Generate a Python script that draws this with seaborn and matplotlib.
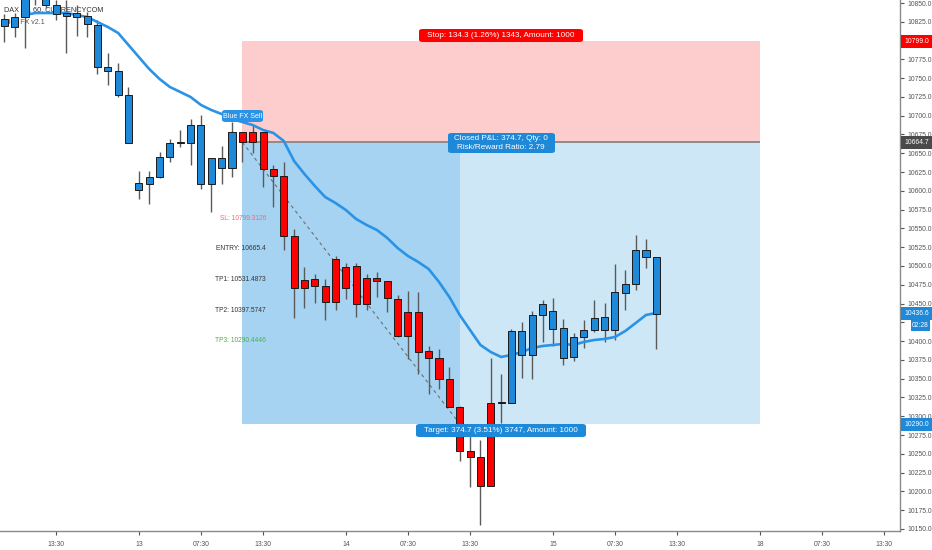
import numpy as np
import pandas as pd
import matplotlib
matplotlib.use("Agg")
import matplotlib.pyplot as plt
from matplotlib.patches import Rectangle, FancyBboxPatch
from matplotlib import font_manager as fm
import seaborn as sns

# ---------------- data ----------------
opens = [10819.4, 10818.1, 10831.4, 10864.6, 10864.6, 10847.3, 10836.7, 10836.7, 10832.7, 10820.7,
         10764.8, 10759.5, 10727.6, 10601.1, 10609.1, 10618.4, 10645.1, 10663.7, 10663.7, 10687.6,
         10609.1, 10643.7, 10630.4, 10678.3, 10678.3, 10678.3, 10629.1, 10619.8, 10539.9, 10481.4,
         10482.7, 10473.4, 10509.3, 10498.7, 10500.0, 10484.0, 10484.0, 10480.0, 10456.1, 10438.8,
         10438.8, 10386.9, 10377.6, 10349.6, 10312.4, 10253.8, 10245.8, 10207.2, 10317.7, 10317.7,
         10413.5, 10381.6, 10434.8, 10440.1, 10417.5, 10378.9, 10405.5, 10414.8, 10414.8, 10414.8,
         10464.1, 10476.0, 10521.3, 10512.0]
closes = [10828.7, 10831.4, 10864.6, 10887.3, 10847.3, 10835.4, 10832.7, 10831.4, 10822.1, 10764.8,
          10759.5, 10727.6, 10663.7, 10610.5, 10618.4, 10645.1, 10663.7, 10663.7, 10687.6, 10609.1,
          10643.7, 10630.4, 10678.3, 10665.0, 10665.0, 10629.1, 10619.8, 10539.9, 10470.7, 10470.7,
          10473.4, 10452.1, 10452.1, 10470.7, 10449.4, 10449.4, 10480.0, 10457.4, 10406.8, 10406.8,
          10385.5, 10377.6, 10349.6, 10312.4, 10253.8, 10245.8, 10207.2, 10317.7, 10317.7, 10413.5,
          10381.6, 10434.8, 10449.4, 10416.2, 10377.6, 10405.5, 10414.8, 10430.8, 10432.1, 10465.4,
          10476.0, 10521.3, 10512.0, 10436.6]
highs = [10835.4, 10836.7, 10874.0, 10893.9, 10874.0, 10854.0, 10854.0, 10847.3, 10838.0, 10827.4,
         10783.5, 10770.2, 10738.2, 10626.4, 10626.4, 10651.7, 10669.0, 10681.0, 10695.6, 10700.9,
         10643.7, 10659.7, 10691.6, 10678.3, 10687.6, 10678.3, 10634.4, 10638.4, 10549.2, 10498.7,
         10489.4, 10482.7, 10513.3, 10504.0, 10504.0, 10489.4, 10492.0, 10480.0, 10461.4, 10466.7,
         10465.4, 10393.5, 10389.5, 10365.6, 10313.7, 10275.1, 10268.4, 10377.6, 10356.3, 10416.2,
         10425.5, 10440.1, 10454.8, 10457.4, 10429.5, 10410.8, 10428.1, 10454.8, 10450.8, 10502.7,
         10494.7, 10541.3, 10535.9, 10512.0]
lows = [10798.1, 10804.8, 10790.1, 10847.3, 10843.3, 10827.4, 10783.5, 10806.1, 10804.8, 10755.5,
        10740.9, 10724.9, 10663.7, 10589.2, 10582.5, 10617.1, 10638.4, 10658.4, 10634.4, 10602.5,
        10571.9, 10609.1, 10618.4, 10638.4, 10650.4, 10605.1, 10578.5, 10521.3, 10430.8, 10444.1,
        10450.8, 10428.1, 10441.5, 10456.1, 10432.1, 10441.5, 10458.7, 10438.8, 10405.5, 10376.2,
        10356.3, 10329.7, 10336.3, 10312.4, 10240.5, 10205.8, 10155.3, 10207.2, 10291.1, 10317.7,
        10350.9, 10349.6, 10398.9, 10393.5, 10368.3, 10373.6, 10390.9, 10412.2, 10398.9, 10401.5,
        10441.5, 10468.1, 10497.3, 10389.5]
trend = ['b'] * 17 + ['k'] + ['b'] * 5 + ['r'] * 25 + ['d'] + ['b'] * 15

ma_values = [10834.0, 10836.7, 10836.7, 10836.7, 10836.7, 10834.0, 10831.4, 10824.7, 10818.1, 10810.1,
             10794.1, 10778.1, 10762.2, 10748.9, 10738.2, 10731.6, 10724.9, 10714.3, 10707.6, 10702.3,
             10695.6, 10691.6, 10687.6, 10681.0, 10677.0, 10666.4, 10639.7, 10622.4, 10606.5, 10591.8,
             10583.8, 10574.5, 10562.5, 10554.6, 10547.9, 10537.3, 10523.9, 10513.3, 10505.3, 10496.0,
             10478.7, 10458.7, 10434.8, 10414.8, 10394.9, 10385.5, 10378.9, 10381.6, 10385.5, 10390.9,
             10393.5, 10394.9, 10396.2, 10394.9, 10398.9, 10401.5, 10402.9, 10405.5, 10413.5, 10424.1,
             10434.8, 10437.5]
ma_start = 2

tick_pos = [5, 13, 19, 25, 33, 39, 45, 53, 59, 65, 73, 79, 85]
tick_labels = ['13:30', '13', '07:30', '13:30', '14', '07:30', '13:30', '15', '07:30', '13:30',
               '18', '07:30', '13:30']

entry_price = 10664.7
stop_price = 10799.0
target_price = 10290.0
last_price = 10436.6
entry_idx, exit_idx, end_idx = 23, 44, 73

level_texts = ['SL: 10799.3126', 'ENTRY: 10665.4', 'TP1: 10531.4873', 'TP2: 10397.5747', 'TP3: 10290.4446']
level_colors = ['#ee6b73', '#333333', '#333333', '#333333', '#4caf50']

# ---------------- style ----------------
sns.set_theme(style="white")
names = {f.name for f in fm.fontManager.ttflist}
FONT = 'DejaVu Sans'
for cand in ['Liberation Sans Narrow', 'Liberation Sans', 'Roboto']:
    if cand in names:
        FONT = cand
        break
plt.rcParams['font.family'] = [FONT, 'DejaVu Sans']

W, H = 932, 550
fig = plt.figure(figsize=(W / 100, H / 100), dpi=100)
fig.patch.set_facecolor('white')
ax = fig.add_axes([0, 19 / H, 900 / W, 531 / H])
ax.set_facecolor('white')

BLUE = '#1e88d9'
RED = '#ff0000'
col_map = {'b': BLUE, 'r': RED, 'k': '#111111', 'd': '#8b1a1a'}

# position regions
ax.fill_between([entry_idx, end_idx], entry_price, stop_price, color='#fdcdcd', lw=0, zorder=0)
ax.fill_between([entry_idx, exit_idx], target_price, entry_price, color='#a6d3f1', lw=0, zorder=0)
ax.fill_between([exit_idx, end_idx], target_price, entry_price, color='#cde7f7', lw=0, zorder=0)
ax.hlines(entry_price, entry_idx, end_idx, color='#8c8c8c', lw=1.4, zorder=1)
ax.plot([entry_idx, exit_idx], [entry_price, target_price], color='#6f6f6f', lw=0.8,
        ls=(0, (3, 3)), zorder=1)

# title texts (behind candles)
ax.text(0.004, 0.982, 'DAX 30, 60, CURRENCYCOM', transform=ax.transAxes, fontsize=5.2,
        color='#333333', va='center', ha='left', zorder=1)
ax.text(0.004, 0.957, 'Blue FX v2.1', transform=ax.transAxes, fontsize=5.0,
        color='#555555', va='center', ha='left', zorder=1)

# candles
idx = np.arange(len(opens))
o = np.array(opens); c = np.array(closes)
lo_b = np.minimum(o, c); hi_b = np.maximum(o, c)
hgt = np.maximum(hi_b - lo_b, 1.3)
cols = [col_map[t] for t in trend]
ax.vlines(idx, lows, highs, color='#5a5a5a', lw=1.0, zorder=3)

# moving average
ma_df = pd.DataFrame({'i': np.arange(ma_start, ma_start + len(ma_values)), 'ma': ma_values})
sns.lineplot(data=ma_df, x='i', y='ma', ax=ax, color='#2a93e6', lw=1.9, zorder=3.5)

ax.bar(idx, hgt, bottom=lo_b, width=0.68, color=cols, edgecolor='#1a1a1a', lw=0.7, zorder=4)

# level labels
for k, (t, cc) in enumerate(zip(level_texts, level_colors)):
    ypx = 218 + k * 30.7
    fig.text(266 / W, 1 - ypx / H, t, ha='right', va='center', fontsize=4.8, color=cc, zorder=6)

# axes
ax.set_xlim(-0.415, 86.54)
ax.set_ylim(10147.3, 10854.0)
ax.set_xticks(tick_pos)
ax.set_xticklabels(tick_labels)
ax.yaxis.tick_right()
yt = np.arange(10150, 10851, 25)
hidden = {10800, 10425}
ax.set_yticks(yt)
ax.set_yticklabels(['' if v in hidden else f'{v:.1f}' for v in yt])
ax.tick_params(axis='both', which='both', labelsize=4.9, colors='#555555', length=3,
               width=0.8, direction='out', pad=2)
ax.tick_params(axis='x', bottom=True, pad=4)
ax.tick_params(axis='y', right=True, left=False)
for s in ['top', 'left']:
    ax.spines[s].set_visible(False)
for s in ['right', 'bottom']:
    ax.spines[s].set_color('#8a8a8a')
    ax.spines[s].set_linewidth(1.0)
ax.set_xlabel('')
ax.set_ylabel('')
ax.grid(False)


def fig_box(x0, y0, x1, y1, color, rounded=False, z=10):
    if rounded:
        p = FancyBboxPatch((x0 / W, 1 - y1 / H), (x1 - x0) / W, (y1 - y0) / H,
                           boxstyle='round,pad=0,rounding_size=0.004', transform=fig.transFigure,
                           fc=color, ec='none', zorder=z)
    else:
        p = Rectangle((x0 / W, 1 - y1 / H), (x1 - x0) / W, (y1 - y0) / H,
                      transform=fig.transFigure, fc=color, ec='none', zorder=z)
    fig.patches.append(p)


def fig_txt(x, y, s, size=6.0, color='white', ha='center', z=11, **kw):
    fig.text(x / W, 1 - y / H, s, ha=ha, va='center', fontsize=size, color=color, zorder=z, **kw)


# chart info labels
fig_box(419, 29, 583, 42, '#ff0000', rounded=True)
fig_txt(501, 35.5, 'Stop: 134.3 (1.26%) 1343, Amount: 1000', size=5.9)
fig_box(448, 133, 555, 153, '#1e88d9', rounded=True)
fig_txt(501, 138.5, 'Closed P&L: 374.7, Qty: 0', size=5.9)
fig_txt(501, 147.5, 'Risk/Reward Ratio: 2.79', size=5.9)
fig_box(416, 424, 586, 437, '#1e88d9', rounded=True)
fig_txt(501, 430.5, 'Target: 374.7 (3.51%) 3747, Amount: 1000', size=5.9)
fig_box(222, 110, 263, 122, '#2a93e6', rounded=True)
fig_txt(242.5, 116, 'Blue FX Sell', size=5.0)

# right-axis price tags
fig_box(901, 35, 932, 48, '#ff0000')
fig_txt(916.5, 41.5, f'{stop_price:.1f}', size=4.9)
fig_box(901, 136, 932, 149, '#4a4a4a')
fig_txt(916.5, 142.5, f'{entry_price:.1f}', size=4.9)
fig_box(901, 307, 932, 320, '#1e88d9')
fig_txt(916.5, 313.5, f'{last_price:.1f}', size=4.9)
fig_box(911, 320, 930, 331, '#1e88d9')
fig_txt(920.5, 325.5, '02:28', size=4.9)
fig_box(901, 418, 932, 431, '#1e88d9')
fig_txt(916.5, 424.5, f'{target_price:.1f}', size=4.9)

fig.savefig('out.png', dpi=100)
